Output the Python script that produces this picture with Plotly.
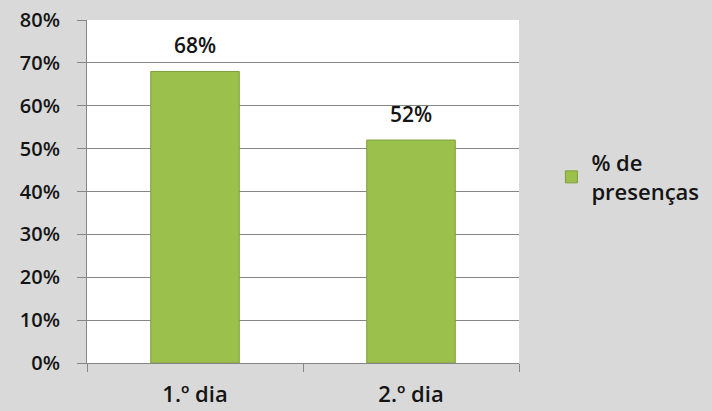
import plotly.graph_objects as go

categories = ["1.º dia", "2.º dia"]
values = [0.68, 0.52]
series_name = "% de<br>presenças"
y_tick_vals = [0, 0.1, 0.2, 0.3, 0.4, 0.5, 0.6, 0.7, 0.8]

FONT = "Open Sans"
TXT = "#141414"
fig = go.Figure()
fig.add_trace(go.Bar(
    x=categories, y=values, name=series_name,
    marker=dict(color="#9bc04b", line=dict(color="#7f9e3c", width=1)),
    width=0.41, showlegend=True,
))
for c, v in zip(categories, values):
    fig.add_annotation(x=c, y=v, text=f"{round(v*100)}%", showarrow=False,
                       yshift=26, font=dict(family=FONT, size=21, color=TXT, weight=600))

fig.update_layout(
    width=712, height=411,
    margin=dict(l=87, r=193, t=20, b=48, autoexpand=False),
    paper_bgcolor="#d9d9d9", plot_bgcolor="#ffffff",
    font=dict(family=FONT, size=21, color=TXT, weight=600),
    showlegend=True,
    legend=dict(x=1.075, y=0.645, xanchor="left", yanchor="top",
                bgcolor="rgba(0,0,0,0)", font=dict(family=FONT, size=22, color=TXT, weight=600)),
    bargap=0.59,
)
fig.update_yaxes(range=[0, 0.8], tickvals=y_tick_vals, tickformat=".0%",
                 tickfont=dict(size=20),
                 showgrid=True, gridcolor="#868686", gridwidth=1,
                 showline=True, linecolor="#868686", linewidth=1,
                 ticks="outside", ticklen=9, tickcolor="#868686",
                 ticklabelstandoff=13, zeroline=False, automargin=False)
fig.update_xaxes(showline=True, linecolor="#868686", linewidth=1,
                 ticks="outside", ticklen=8, tickcolor="#868686",
                 tickfont=dict(size=22),
                 tickson="boundaries", ticklabelstandoff=12, showgrid=False,
                 automargin=False)
fig.write_html("out.html", config={"displayModeBar": False},
               post_script="document.body.style.margin='0px';document.body.style.overflow='hidden';")
